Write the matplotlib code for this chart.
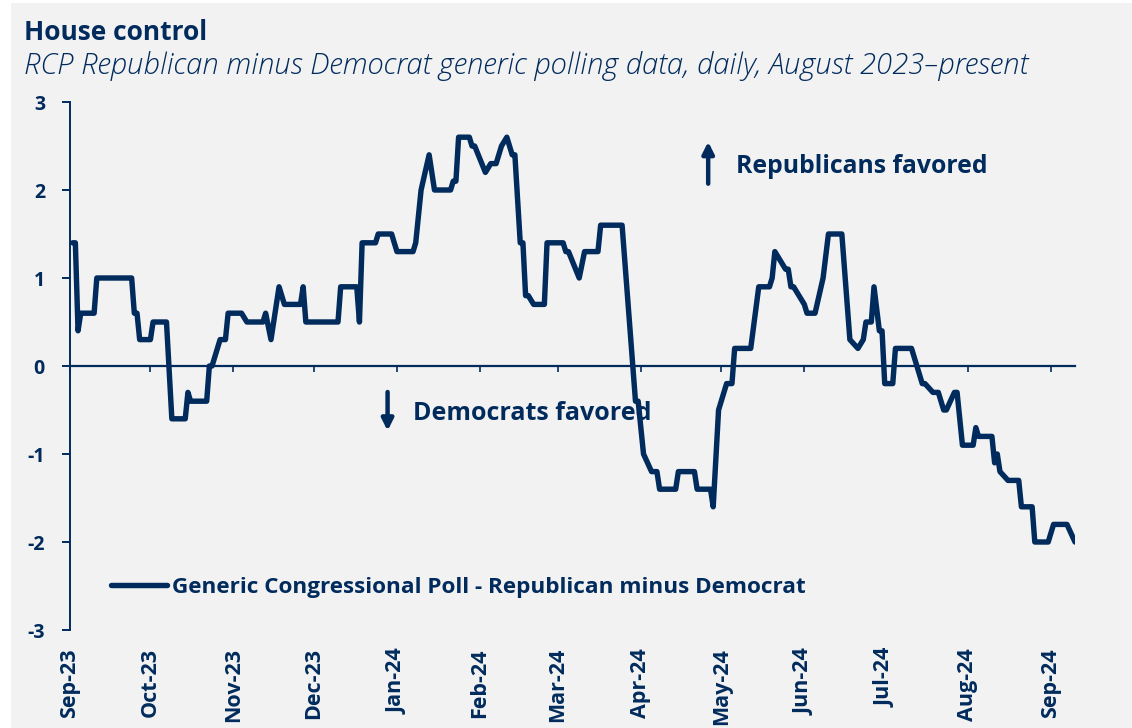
import matplotlib.pyplot as plt
import matplotlib.dates as mdates
import numpy as np
import pandas as pd
from matplotlib.patches import Rectangle

plt.rcParams['font.family'] = ['Open Sans', 'DejaVu Sans']
plt.rcParams['axes.unicode_minus'] = False

NAVY = '#002b5c'
BG = '#f2f2f2'

# RCP generic ballot spread (R minus D), turning points of the daily series
dates = [
    '2023-09-02', '2023-09-03', '2023-09-04', '2023-09-05', '2023-09-10', '2023-09-11',
    '2023-09-24', '2023-09-25', '2023-09-26', '2023-09-27', '2023-10-01', '2023-10-02',
    '2023-10-07', '2023-10-09', '2023-10-14', '2023-10-15', '2023-10-16', '2023-10-22',
    '2023-10-23', '2023-10-24', '2023-10-27', '2023-10-29', '2023-10-30', '2023-11-04',
    '2023-11-06', '2023-11-12', '2023-11-13', '2023-11-15', '2023-11-18', '2023-11-20',
    '2023-11-26', '2023-11-27', '2023-11-28', '2023-12-10', '2023-12-11', '2023-12-17',
    '2023-12-18', '2023-12-19', '2023-12-24', '2023-12-25', '2023-12-30', '2024-01-01',
    '2024-01-07', '2024-01-08', '2024-01-10', '2024-01-13', '2024-01-15', '2024-01-21',
    '2024-01-22', '2024-01-23', '2024-01-24', '2024-01-28', '2024-01-29', '2024-01-30',
    '2024-02-03', '2024-02-05', '2024-02-07', '2024-02-09', '2024-02-11', '2024-02-13',
    '2024-02-14', '2024-02-16', '2024-02-17', '2024-02-18', '2024-02-19', '2024-02-21',
    '2024-02-25', '2024-02-26', '2024-03-03', '2024-03-04', '2024-03-05', '2024-03-09',
    '2024-03-11', '2024-03-16', '2024-03-17', '2024-03-25', '2024-03-30', '2024-03-31',
    '2024-04-02', '2024-04-05', '2024-04-07', '2024-04-08', '2024-04-14', '2024-04-15',
    '2024-04-21', '2024-04-22', '2024-04-27', '2024-04-28', '2024-04-30', '2024-05-03',
    '2024-05-05', '2024-05-06', '2024-05-07', '2024-05-12', '2024-05-15', '2024-05-19',
    '2024-05-20', '2024-05-21', '2024-05-25', '2024-05-26', '2024-05-27', '2024-05-28',
    '2024-06-01', '2024-06-02', '2024-06-05', '2024-06-08', '2024-06-10', '2024-06-15',
    '2024-06-18', '2024-06-21', '2024-06-23', '2024-06-24', '2024-06-26', '2024-06-27',
    '2024-06-29', '2024-06-30', '2024-07-01', '2024-07-04', '2024-07-05', '2024-07-11',
    '2024-07-13', '2024-07-15', '2024-07-16', '2024-07-19', '2024-07-21', '2024-07-23',
    '2024-07-24', '2024-07-27', '2024-07-28', '2024-07-30', '2024-08-03', '2024-08-04',
    '2024-08-05', '2024-08-10', '2024-08-11', '2024-08-12', '2024-08-13', '2024-08-16',
    '2024-08-20', '2024-08-21', '2024-08-25', '2024-08-26', '2024-08-31', '2024-09-02',
    '2024-09-07', '2024-09-10',
]
spread = [
    1.4, 1.4, 0.4, 0.6, 0.6, 1.0,
    1.0, 0.6, 0.6, 0.3, 0.3, 0.5,
    0.5, -0.6, -0.6, -0.3, -0.4, -0.4,
    0.0, 0.0, 0.3, 0.3, 0.6, 0.6,
    0.5, 0.5, 0.6, 0.3, 0.9, 0.7,
    0.7, 0.9, 0.5, 0.5, 0.9, 0.9,
    0.5, 1.4, 1.4, 1.5, 1.5, 1.3,
    1.3, 1.4, 2.0, 2.4, 2.0, 2.0,
    2.1, 2.1, 2.6, 2.6, 2.5, 2.5,
    2.2, 2.3, 2.3, 2.5, 2.6, 2.4,
    2.4, 1.4, 1.4, 0.8, 0.8, 0.7,
    0.7, 1.4, 1.4, 1.3, 1.3, 1.0,
    1.3, 1.3, 1.6, 1.6, -0.4, -0.4,
    -1.0, -1.2, -1.2, -1.4, -1.4, -1.2,
    -1.2, -1.4, -1.4, -1.6, -0.5, -0.2,
    -0.2, 0.2, 0.2, 0.2, 0.9, 0.9,
    1.0, 1.3, 1.1, 1.1, 0.9, 0.9,
    0.7, 0.6, 0.6, 1.0, 1.5, 1.5,
    0.3, 0.2, 0.3, 0.5, 0.5, 0.9,
    0.4, 0.4, -0.2, -0.2, 0.2, 0.2,
    0.0, -0.2, -0.2, -0.3, -0.3, -0.5,
    -0.5, -0.3, -0.3, -0.9, -0.9, -0.7,
    -0.8, -0.8, -1.1, -1.0, -1.2, -1.3,
    -1.3, -1.6, -1.6, -2.0, -2.0, -1.8,
    -1.8, -2.0,
]

month_ticks = pd.date_range('2023-09-01', '2024-09-01', freq='MS')
month_labels = [d.strftime('%b-%y') for d in month_ticks]
y_ticks = [-3, -2, -1, 0, 1, 2, 3]

x = pd.to_datetime(dates)

fig = plt.figure(figsize=(11.32, 7.28), dpi=100, facecolor='white')
fig.patches.append(Rectangle((11 / 1132, 0), 1, 1 - 3 / 728, transform=fig.transFigure,
                             facecolor=BG, edgecolor='none', zorder=-1))
ax = fig.add_axes([70 / 1132, 1 - 630 / 728, 1005 / 1132, 528 / 728])
ax.set_facecolor(BG)

ax.plot(x, spread, color=NAVY, lw=3.9, solid_joinstyle='round', solid_capstyle='round',
        label='Generic Congressional Poll - Republican minus Democrat', zorder=3)

ax.set_xlim(pd.Timestamp('2023-09-01'), pd.Timestamp('2024-09-10'))
ax.set_ylim(-3, 3)

# spines: left axis plus a zero line carrying the month ticks
for side in ['top', 'right']:
    ax.spines[side].set_visible(False)
ax.spines['left'].set_color(NAVY)
ax.spines['left'].set_linewidth(1.4)
ax.spines['bottom'].set_position(('data', 0))
ax.spines['bottom'].set_color(NAVY)
ax.spines['bottom'].set_linewidth(1.6)

ax.set_xticks(month_ticks)
ax.tick_params(axis='x', direction='out', length=4, width=1.2, color=NAVY, labelbottom=False)
ax.set_yticks(y_ticks)
ax.set_yticklabels([str(v) for v in y_ticks])
ax.tick_params(axis='y', direction='out', length=6, width=1.4, color=NAVY, pad=12,
               labelsize=14, labelcolor=NAVY)
for t in ax.get_yticklabels():
    t.set_fontweight('bold')

# month labels sit under the plot area, not on the zero line
secax = ax.secondary_xaxis('bottom')
secax.set_xticks(month_ticks)
secax.set_xticklabels(month_labels, rotation=90, fontsize=15.5, fontweight='bold', color=NAVY)
secax.tick_params(length=0, pad=13)
secax.spines['bottom'].set_visible(False)

# direction annotations
ax.annotate('', xy=(0.635, 0.93), xytext=(0.635, 0.84), xycoords='axes fraction',
            arrowprops=dict(arrowstyle='-|>', color=NAVY, lw=3.2, mutation_scale=17))
ax.text(0.663, 0.877, 'Republicans favored', transform=ax.transAxes, fontsize=17.8,
        fontweight='bold', color=NAVY, va='center', ha='left')
ax.annotate('', xy=(0.316, 0.372), xytext=(0.316, 0.456), xycoords='axes fraction',
            arrowprops=dict(arrowstyle='-|>', color=NAVY, lw=3.2, mutation_scale=17))
ax.text(0.341, 0.41, 'Democrats favored', transform=ax.transAxes, fontsize=18,
        fontweight='bold', color=NAVY, va='center', ha='left', zorder=2)

leg = ax.legend(loc='center left', bbox_to_anchor=(0.0318, 0.0814), frameon=False,
                handlelength=2.5, handletextpad=0.2, borderaxespad=0,
                prop=dict(weight='bold', size=16.2))
for t in leg.get_texts():
    t.set_color(NAVY)

fig.text(24 / 1132, 1 - 32 / 728, 'House control', fontsize=19, fontweight='bold',
         color=NAVY, va='center', ha='left')
fig.text(24 / 1132, 1 - 66 / 728,
         'RCP Republican minus Democrat generic polling data, daily, August 2023\u2013present',
         fontsize=21.1, fontstyle='italic', fontweight='light', color=NAVY, va='center', ha='left')

fig.savefig('out.png', dpi=100, facecolor=fig.get_facecolor())
